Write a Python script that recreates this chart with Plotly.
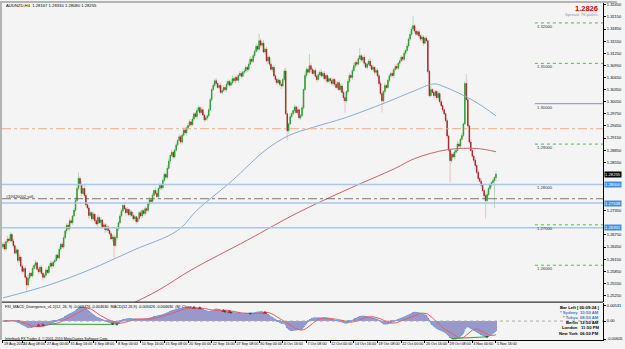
import numpy as np
import pandas as pd
import plotly.graph_objects as go

# ---------------- data (AUDNZD H4) ----------------
close = [
 1.2652,1.2640,1.2658,1.2665,1.2661,1.2676,1.2660,1.2648,1.2630,1.2638,1.2612,1.2620,1.2598,1.2585,1.2592,1.2570,1.2551,1.2568,1.2580,1.2574,
 1.2592,1.2600,1.2606,1.2590,1.2584,1.2595,1.2580,1.2570,1.2575,1.2588,1.2582,1.2597,1.2605,1.2598,1.2608,1.2612,1.2625,1.2618,1.2640,1.2652,
 1.2645,1.2668,1.2685,1.2699,1.2690,1.2710,1.2705,1.2722,1.2736,1.2760,1.2790,1.2815,1.2800,1.2778,1.2790,1.2773,1.2750,1.2742,1.2723,1.2730,
 1.2715,1.2726,1.2710,1.2702,1.2718,1.2706,1.2712,1.2695,1.2700,1.2688,1.2695,1.2686,1.2678,1.2665,1.2670,1.2649,1.2668,1.2690,1.2705,1.2722,
 1.2735,1.2748,1.2740,1.2730,1.2738,1.2725,1.2732,1.2723,1.2715,1.2720,1.2708,1.2716,1.2730,1.2722,1.2735,1.2728,1.2740,1.2736,1.2752,1.2762,
 1.2758,1.2773,1.2785,1.2778,1.2770,1.2790,1.2798,1.2792,1.2810,1.2825,1.2818,1.2840,1.2858,1.2872,1.2880,1.2868,1.2885,1.2898,1.2909,1.2918,
 1.2905,1.2922,1.2935,1.2928,1.2940,1.2946,1.2955,1.2948,1.2962,1.2975,1.2968,1.2983,1.2990,1.2978,1.2985,1.2972,1.2960,1.2965,1.2970,1.2985,
 1.3010,1.3035,1.3045,1.3057,1.3050,1.3040,1.3045,1.3028,1.3032,1.3040,1.3035,1.3048,1.3055,1.3046,1.3052,1.3062,1.3057,1.3065,1.3058,1.3070,
 1.3075,1.3068,1.3078,1.3081,1.3090,1.3085,1.3098,1.3110,1.3105,1.3119,1.3130,1.3142,1.3135,1.3156,1.3145,1.3150,1.3128,1.3135,1.3106,1.3115,
 1.3098,1.3085,1.3090,1.3069,1.3060,1.3052,1.3058,1.3048,1.3044,1.3060,1.3081,1.2975,1.2933,1.2950,1.2968,1.2975,1.2983,1.2992,1.2978,1.2985,
 1.2965,1.2970,1.2990,1.3035,1.3070,1.3085,1.3078,1.3094,1.3085,1.3075,1.3082,1.3068,1.3060,1.3072,1.3078,1.3069,1.3075,1.3062,1.3070,1.3055,
 1.3062,1.3057,1.3050,1.3060,1.3048,1.3040,1.3052,1.3035,1.3044,1.3028,1.3015,1.3007,1.3030,1.3055,1.3070,1.3065,1.3082,1.3094,1.3102,1.3098,
 1.3112,1.3119,1.3108,1.3115,1.3100,1.3090,1.3098,1.3105,1.3094,1.3085,1.3090,1.3078,1.3082,1.3069,1.3050,1.3025,1.3007,1.3030,1.3045,1.3040,
 1.3058,1.3069,1.3075,1.3070,1.3085,1.3092,1.3088,1.3100,1.3106,1.3115,1.3110,1.3125,1.3132,1.3143,1.3160,1.3172,1.3185,1.3193,1.3180,1.3172,
 1.3178,1.3168,1.3160,1.3165,1.3150,1.3162,1.3156,1.3080,1.3020,1.3035,1.3028,1.3020,1.3030,1.3015,1.3025,1.3005,1.2995,1.2985,1.2975,1.2958,
 1.2920,1.2885,1.2859,1.2875,1.2868,1.2880,1.2884,1.2900,1.2895,1.2912,1.2921,1.2950,1.3050,1.3010,1.2945,1.2905,1.2884,1.2870,1.2860,1.2847,
 1.2830,1.2815,1.2808,1.2798,1.2785,1.2772,1.2760,1.2775,1.2790,1.2798,1.2805,1.2810,1.2817,1.28255,
]
first_open = 1.2645
# wick lengths in pips (0.0001)
wick_up = [
 4,6,3,8,5,7,3,5,4,6,3,7,4,5,3,6,4,8,5,3,
 6,4,7,3,5,4,6,3,5,7,4,3,6,5,4,7,3,5,6,4,
 5,7,3,6,4,8,5,3,6,9,7,15,6,10,5,8,6,4,7,5,
 4,6,3,5,7,4,6,3,5,4,7,3,5,4,6,8,5,7,4,6,
 5,3,7,4,6,3,5,4,8,5,3,6,4,7,5,3,6,4,5,7,
 4,6,3,8,5,4,7,3,6,5,4,8,6,5,7,4,6,5,3,7,
 5,4,6,8,4,5,7,3,6,4,5,8,6,4,7,5,3,6,4,5,
 6,4,7,5,6,3,5,8,4,6,3,7,5,4,6,8,5,4,7,3,
 6,5,4,7,5,3,6,8,4,6,5,7,4,17,6,5,8,4,6,5,
 4,7,3,6,5,4,7,3,6,4,5,8,6,4,7,5,3,6,4,8,
 5,4,6,3,7,5,4,29,6,5,3,7,4,6,5,8,4,6,3,5,
 7,4,6,5,3,8,4,6,5,7,4,6,3,5,7,4,6,8,5,4,
 6,19,5,4,7,3,6,5,8,4,6,3,5,7,4,6,5,4,7,3,
 5,6,4,8,3,5,7,4,6,5,3,7,4,6,5,8,6,24,5,7,
 4,6,3,7,5,4,6,3,5,8,4,6,5,3,7,4,6,5,4,3,
 6,4,5,7,3,6,4,8,5,3,7,4,6,24,5,4,7,3,6,5,
 4,6,3,7,5,4,6,8,4,5,3,6,4,1,
]
wick_dn = [
 5,3,6,4,7,3,5,6,4,3,7,5,4,6,3,5,18,4,6,3,
 5,4,7,3,6,4,5,8,3,6,4,5,3,7,4,6,3,5,4,6,
 3,5,4,7,3,6,4,5,3,4,6,5,4,7,3,6,5,4,8,3,
 6,4,5,3,7,4,6,5,3,8,4,6,5,3,7,32,4,6,5,3,
 4,6,3,7,5,4,6,3,5,4,7,3,6,4,5,3,6,8,4,5,
 6,3,5,4,7,3,5,6,4,3,6,5,4,7,3,6,4,5,3,4,
 5,6,3,4,7,5,3,6,4,5,3,7,4,6,5,3,6,4,7,5,
 3,6,4,5,7,3,5,4,6,3,5,7,4,6,3,5,4,7,3,6,
 4,5,3,6,4,7,5,3,6,4,5,3,7,4,6,5,3,6,4,7,
 5,3,6,4,7,5,3,6,8,4,5,4,24,6,3,5,4,7,3,6,
 4,5,3,6,4,7,5,3,6,4,5,3,7,4,6,5,3,4,6,5,
 3,6,4,7,5,3,6,4,5,3,8,29,4,6,5,3,7,4,6,5,
 3,4,6,5,7,3,5,4,6,3,5,7,4,6,5,3,29,4,6,5,
 3,6,4,5,7,3,5,4,6,3,5,4,7,3,6,5,4,3,6,5,
 4,3,6,5,7,3,4,6,5,4,3,6,5,4,7,5,3,6,4,5,
 6,4,54,5,3,6,4,5,3,6,4,5,3,4,6,5,3,4,6,5,
 4,6,3,5,4,7,44,3,5,4,6,3,69,1,
]

# moving averages read at sampled bars
ma_blue_idx = [0, 31, 58, 88, 118, 131, 155, 177, 193, 209, 231, 258, 278, 291, 298, 318, 333]
ma_blue_val = [1.2519, 1.2551, 1.2588, 1.2637, 1.2686, 1.2736, 1.2810, 1.2884, 1.2921, 1.2941,
               1.2965, 1.3002, 1.3032, 1.3049, 1.3042, 1.3007, 1.2970]
ma_red_idx = [85, 105, 127, 165, 198, 231, 265, 278, 300, 320, 333]
ma_red_val = [1.2501, 1.2538, 1.2588, 1.2662, 1.2728, 1.2785, 1.2840, 1.2864, 1.2886, 1.2889, 1.2881]

tick_idx = [0] + [13 + 16 * k for k in range(21)]
tick_labels = ["19 Aug 2010", "24 Aug 08:00", "27 Aug 00:00", "31 Aug 16:00", "3 Sep 08:00",
               "8 Sep 00:00", "10 Sep 16:00", "15 Sep 08:00", "20 Sep 00:00", "22 Sep 16:00",
               "27 Sep 08:00", "30 Sep 00:00", "4 Oct 16:00", "7 Oct 08:00", "12 Oct 00:00",
               "14 Oct 16:00", "19 Oct 08:00", "22 Oct 00:00", "26 Oct 16:00", "29 Oct 08:00",
               "3 Nov 00:00", "5 Nov 16:00"]

level_green = [1.32, 1.31, 1.29, 1.27, 1.26]
level_labels = [1.32, 1.31, 1.30, 1.29, 1.28, 1.27, 1.26]
level_blue_short = 1.30
level_blue_full = [1.2800, 1.27538, 1.26931]
order_line = 1.27647
orange_line = 1.2938
last_o, last_h, last_l, last_c = 1.28167, 1.28330, 1.28080, 1.28255

red_marks = [24, 27, 129, 133, 149, 153, 177]
green_marks = [74, 77, 150, 154, 167, 327]
div_lines = [(31, 75), (303, 327)]

# ---------------- derived ----------------
c = np.array(close)
n = len(c)
idx = np.arange(n)
o = np.concatenate([[first_open], c[:-1]])
o[-1] = last_o
hi = np.maximum(o, c) + np.array(wick_up) * 1e-4
lo = np.minimum(o, c) - np.array(wick_dn) * 1e-4
hi[-1] = last_h
lo[-1] = last_l


def ema(v, p):
    a = 2.0 / (p + 1)
    out = [v[0]]
    for x in v[1:]:
        out.append(out[-1] + a * (x - out[-1]))
    return np.array(out)


macd = ema(c, 12) - ema(c, 26)
signal = pd.Series(macd).rolling(9, min_periods=1).mean().values

# ---------------- geometry ----------------
W, H = 625, 349
ML, MR, MT, MB = 2, 14, 2, 9
PW, PH = W - ML - MR, H - MT - MB


def py(px):  # pixel y -> paper y
    return (H - MB - px) / PH


def pxx(px):  # pixel x -> paper x
    return (px - ML) / PW


main_bottom = py(302)
ind_top = py(303)
ymin, ymax = 1.32 - 280 / 4050, 1.32 + 20 / 4050
# macd pane: zero line sits 19 px above the bottom of a 37 px pane
ind_lo = 1.04 * macd.min()
ind_hi = -ind_lo * 18.0 / 19.0

fig = go.Figure()
# wicks (light)
fig.add_trace(go.Candlestick(
    x=idx, open=o, high=hi, low=lo, close=c, xaxis="x", yaxis="y",
    increasing=dict(line=dict(color="#a6d4a6", width=0.8), fillcolor="#a6d4a6"),
    decreasing=dict(line=dict(color="#e8b4b4", width=0.8), fillcolor="#e8b4b4"),
    whiskerwidth=0, hoverinfo="skip", showlegend=False))
# bodies (dark)
fig.add_trace(go.Candlestick(
    x=idx, open=o, high=np.maximum(o, c), low=np.minimum(o, c), close=c, xaxis="x", yaxis="y",
    increasing=dict(line=dict(color="#2a962a", width=0.6), fillcolor="#2a962a"),
    decreasing=dict(line=dict(color="#981c1c", width=0.6), fillcolor="#981c1c"),
    whiskerwidth=0, hoverinfo="skip", showlegend=False))
fig.add_trace(go.Scatter(x=ma_blue_idx, y=ma_blue_val, mode="lines", xaxis="x", yaxis="y",
                         line=dict(color="#86acd4", width=1, shape="spline"), showlegend=False))
fig.add_trace(go.Scatter(x=ma_red_idx, y=ma_red_val, mode="lines", xaxis="x", yaxis="y",
                         line=dict(color="#c86464", width=1, shape="spline"), showlegend=False))

# MACD pane
fig.add_trace(go.Bar(x=idx, y=macd, xaxis="x", yaxis="y2", width=0.55,
                     marker=dict(color="#9898cc", line=dict(width=0)), showlegend=False))
fig.add_trace(go.Scatter(x=idx, y=macd, mode="lines", xaxis="x", yaxis="y2",
                         line=dict(color="#6a9ee0", width=1), showlegend=False))
fig.add_trace(go.Scatter(x=idx, y=signal, mode="lines", xaxis="x", yaxis="y2",
                         line=dict(color="#e06060", width=1), showlegend=False))
for a, b in div_lines:
    fig.add_trace(go.Scatter(x=[a, b], y=[macd[a], macd[b]], mode="lines", xaxis="x", yaxis="y2",
                             line=dict(color="#3a9a3a", width=1), showlegend=False))
fig.add_trace(go.Scatter(x=red_marks, y=[macd[i] for i in red_marks], mode="markers", xaxis="x", yaxis="y2",
                         marker=dict(symbol="triangle-up", size=4, color="#d02020"), showlegend=False))
fig.add_trace(go.Scatter(x=green_marks, y=[macd[i] for i in green_marks], mode="markers", xaxis="x", yaxis="y2",
                         marker=dict(symbol="triangle-down", size=3, color="#1f5f1f"), showlegend=False))

shapes = []
for lv in level_green:
    shapes.append(dict(type="line", xref="paper", yref="y", x0=pxx(542), x1=1, y0=lv, y1=lv,
                       line=dict(color="#58b058", width=1, dash="dot")))
shapes.append(dict(type="line", xref="paper", yref="y", x0=pxx(542), x1=1, y0=level_blue_short,
                   y1=level_blue_short, line=dict(color="#8c8cdc", width=1)))
for lv in level_blue_full:
    shapes.append(dict(type="line", xref="paper", yref="y", x0=0, x1=1, y0=lv, y1=lv,
                       line=dict(color="#a9c8e6", width=1.5)))
shapes.append(dict(type="line", xref="paper", yref="y", x0=0, x1=1, y0=order_line, y1=order_line,
                   line=dict(color="#555555", width=0.8, dash="dashdot")))
shapes.append(dict(type="line", xref="paper", yref="y", x0=0, x1=1, y0=orange_line, y1=orange_line,
                   line=dict(color="#f0a880", width=1, dash="dashdot")))
shapes.append(dict(type="line", xref="paper", yref="y2", x0=0, x1=1, y0=0, y1=0,
                   line=dict(color="#aaaaaa", width=1, dash="dot")))
# pane separators / frame
shapes.append(dict(type="line", xref="paper", yref="paper", x0=0, x1=1, y0=main_bottom, y1=main_bottom,
                   line=dict(color="#000000", width=1)))
shapes.append(dict(type="rect", xref="paper", yref="paper", x0=-ML / PW, x1=0, y0=0, y1=1 + MT / PH,
                   line=dict(width=0), fillcolor="#b4b4b4"))
shapes.append(dict(type="rect", xref="paper", yref="paper", x0=-ML / PW, x1=1 + MR / PW, y0=1, y1=1 + MT / PH,
                   line=dict(width=0), fillcolor="#b4b4b4"))

F = "Liberation Sans"
ann = []
ann.append(dict(xref="paper", yref="paper", x=pxx(4), y=py(4.5), xanchor="left", yanchor="middle",
                text="AUDNZD,H4  %.5f %.5f %.5f %.5f" % (last_o, last_h, last_l, last_c),
                showarrow=False, font=dict(size=4.2, color="#000", family=F)))
ann.append(dict(xref="paper", yref="paper", x=pxx(608), y=py(7.5), xanchor="right", yanchor="middle",
                text="<b>%.4f</b>" % last_c, showarrow=False, font=dict(size=7.5, color="#cc0000", family=F)))
ann.append(dict(xref="paper", yref="paper", x=pxx(608), y=py(14), xanchor="right", yanchor="middle",
                text="Spread: 76 points", showarrow=False, font=dict(size=4.2, color="#7a96c4", family=F)))
for lv in level_labels:
    ann.append(dict(xref="paper", yref="y", x=pxx(542), y=lv, yshift=-3.5, xanchor="left", yanchor="middle",
                    text="%.5f" % lv, showarrow=False, font=dict(size=4.2, color="#333", family=F)))
ann.append(dict(xref="paper", yref="y", x=pxx(4), y=order_line, yshift=2.5, xanchor="left", yanchor="middle",
                text="#19420002 sell", showarrow=False, font=dict(size=4, color="#222", family=F)))
# right axis highlight boxes
marked = [(last_c, "#000000")] + [(v, "#3d8ee6") for v in level_blue_full]
for val, bg in marked:
    ann.append(dict(xref="paper", yref="y", x=1.0, xshift=1, y=val, xanchor="left", yanchor="middle",
                    text="%.5f" % val, showarrow=False, bgcolor=bg, borderpad=0,
                    font=dict(size=4.2, color="#ffffff", family=F)))
# indicator title & footer
ann.append(dict(xref="paper", yref="paper", x=pxx(3), y=py(307), xanchor="left", yanchor="middle",
                text="FXI_MACD_Divergence_v1.1(12, 26, 9) %.6f %.6f  MACD(12,26,9) %.6f %.6f  (M: Close"
                     % (macd[-1], signal[-1], macd[-1], signal[-1]),
                showarrow=False, font=dict(size=3.8, color="#000", family=F)))
ann.append(dict(xref="paper", yref="paper", x=pxx(3), y=py(338.5), xanchor="left", yanchor="middle",
                text="Interbank FX Trader 4, \u00a9 2001-2010 MetaQuotes Software Corp.",
                showarrow=False, font=dict(size=3.6, color="#000", family=F)))
info = [("Bar Left [ 00:09:24 ]", "", "#000"), ("* Sydney", "10:50 AM", "#3c78c8"),
        ("* Tokyo", "08:50 AM", "#3c78c8"), ("Berlin", "12:50 AM", "#000"),
        ("London", "11:50 PM", "#000"), ("New York", "06:50 PM", "#000")]
for k, (name, tm, col) in enumerate(info):
    yy = py(307.5 + 5.1 * k)
    if tm == "":
        ann.append(dict(xref="paper", yref="paper", x=pxx(609), y=yy, xanchor="right", yanchor="middle",
                        text="<b>%s</b>" % name, showarrow=False, font=dict(size=4.2, color=col, family=F)))
    else:
        ann.append(dict(xref="paper", yref="paper", x=pxx(588), y=yy, xanchor="right", yanchor="middle",
                        text="<b>%s</b>" % name, showarrow=False, font=dict(size=4.2, color=col, family=F)))
        ann.append(dict(xref="paper", yref="paper", x=pxx(609), y=yy, xanchor="right", yanchor="middle",
                        text="<b>%s</b>" % tm, showarrow=False, font=dict(size=4.2, color=col, family=F)))

# price-axis ticks, leaving room for the highlighted price boxes
price_ticks = [round(1.3245 - 0.003 * k, 5) for k in range(25)]
price_ticks = [t for t in price_ticks if ymin < t < ymax and all(abs(t - v) > 0.0017 for v, _ in marked)]

ind_ticks = [round(ind_hi * 0.88, 5), 0.0, round(ind_lo * 0.95, 5)]
fig.update_layout(
    width=W, height=H, margin=dict(l=ML, r=MR, t=MT, b=MB),
    paper_bgcolor="#f4f4f4", plot_bgcolor="#f4f4f4", showlegend=False, bargap=0, boxgap=0.45,
    font=dict(family=F, size=4, color="#000"),
    xaxis=dict(domain=[0, 1], range=[-0.67, 405.3], anchor="y2", tickvals=tick_idx, ticktext=tick_labels,
               tickangle=0, ticks="outside", ticklen=2, tickcolor="#000", tickfont=dict(size=3.7, family=F),
               ticklabelposition="outside right", showgrid=False, zeroline=False,
               rangeslider=dict(visible=False), showline=True, linecolor="#000", linewidth=1),
    yaxis=dict(domain=[main_bottom, 1], range=[ymin, ymax], side="right", anchor="x",
               tickvals=price_ticks, tickformat=".5f", ticks="outside", ticklen=2, tickcolor="#000",
               showgrid=False, zeroline=False, showline=True, linecolor="#000", linewidth=1,
               tickfont=dict(size=4, family=F)),
    yaxis2=dict(domain=[0, ind_top], range=[ind_lo, ind_hi], side="right", anchor="x",
                tickvals=ind_ticks, ticktext=["%.5f" % v if v else "0.00" for v in ind_ticks],
                ticks="outside", ticklen=2, tickcolor="#000", showgrid=False, zeroline=False,
                showline=True, linecolor="#000", linewidth=1, tickfont=dict(size=4, family=F)),
    shapes=shapes, annotations=ann,
)
fig.write_html("out.html")
